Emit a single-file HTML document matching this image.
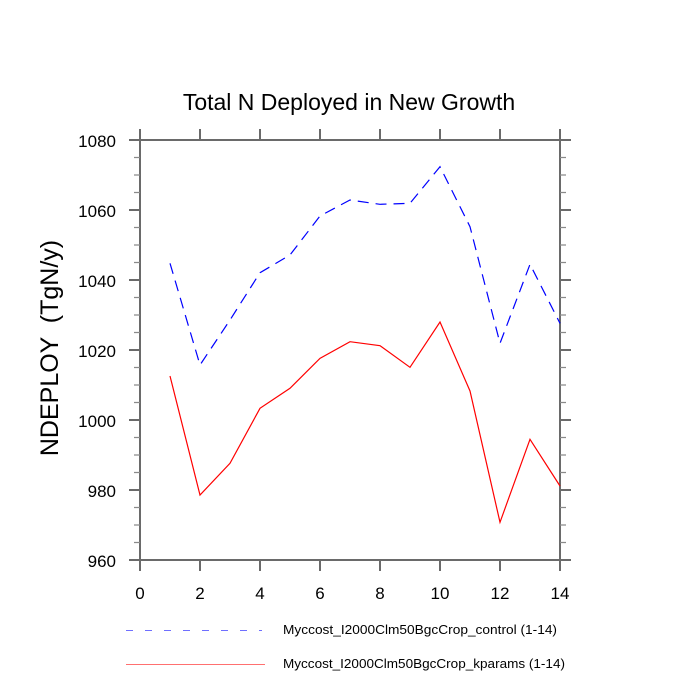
<!DOCTYPE html>
<html><head><meta charset="utf-8"><style>
html,body{margin:0;padding:0;background:#fff;}
svg{display:block;font-family:"Liberation Sans",Arial,sans-serif;}
</style></head><body>
<svg width="700" height="700" viewBox="0 0 700 700" xmlns="http://www.w3.org/2000/svg">
<rect width="700" height="700" fill="#fff"/>
<text x="349" y="110" font-size="23" text-anchor="middle" fill="#000">Total N Deployed in New Growth</text>
<g stroke="#6a6a6a" stroke-width="2" fill="none">
<rect x="140" y="140" width="420" height="420"/>
<!-- x major ticks -->
<path d="M140 560V571M200 560V571M260 560V571M320 560V571M380 560V571M440 560V571M500 560V571M560 560V571"/>
<path d="M140 140V129M200 140V129M260 140V129M320 140V129M380 140V129M440 140V129M500 140V129M560 140V129"/>
<!-- y major ticks -->
<path d="M129 140H140M129 210H140M129 280H140M129 350H140M129 420H140M129 490H140M129 560H140"/>
<path d="M560 140H571M560 210H571M560 280H571M560 350H571M560 420H571M560 490H571M560 560H571"/>
</g>
<g stroke="#8a8a8a" stroke-width="1.3" fill="none">
<path d="M134 157.5H140M134 175H140M134 192.5H140M134 227.5H140M134 245H140M134 262.5H140M134 297.5H140M134 315H140M134 332.5H140M134 367.5H140M134 385H140M134 402.5H140M134 437.5H140M134 455H140M134 472.5H140M134 507.5H140M134 525H140M134 542.5H140"/>
<path d="M560 157.5H566M560 175H566M560 192.5H566M560 227.5H566M560 245H566M560 262.5H566M560 297.5H566M560 315H566M560 332.5H566M560 367.5H566M560 385H566M560 402.5H566M560 437.5H566M560 455H566M560 472.5H566M560 507.5H566M560 525H566M560 542.5H566"/>
</g>
<g font-size="17" fill="#000" text-anchor="end">
<text x="116" y="147">1080</text>
<text x="116" y="217">1060</text>
<text x="116" y="287">1040</text>
<text x="116" y="357">1020</text>
<text x="116" y="427">1000</text>
<text x="116" y="497">980</text>
<text x="116" y="567">960</text>
</g>
<g font-size="17" fill="#000" text-anchor="middle">
<text x="140" y="599">0</text>
<text x="200" y="599">2</text>
<text x="260" y="599">4</text>
<text x="320" y="599">6</text>
<text x="380" y="599">8</text>
<text x="440" y="599">10</text>
<text x="500" y="599">12</text>
<text x="560" y="599">14</text>
</g>
<text x="58" y="348" font-size="25" text-anchor="middle" fill="#000" transform="rotate(-90 58 348)" xml:space="preserve">NDEPLOY  (TgN/y)</text>
<polyline fill="none" stroke="#0000ff" stroke-width="1.2" stroke-dasharray="11 7" points="170,263.3 200,365 230,320 260,272.7 290,255 320,216 350,200 380,204.3 410,203.3 440,166.7 470,226.7 500,343.3 530,264.3 560,323.3"/>
<polyline fill="none" stroke="#ff0000" stroke-width="1.2" points="170,376 200,495 230,463.3 260,408.3 290,388.3 320,358.3 350,341.7 380,345.7 410,367.3 440,322 470,391 500,522.3 530,439.3 560,486"/>
<line x1="126" y1="630.5" x2="262" y2="630.5" stroke="#6f6fff" stroke-width="1" stroke-dasharray="7 12"/>
<line x1="126" y1="664.5" x2="265" y2="664.5" stroke="#ff7070" stroke-width="1"/>
<text x="283" y="634" font-size="13" fill="#000" textLength="274" lengthAdjust="spacingAndGlyphs">Myccost_I2000Clm50BgcCrop_control (1-14)</text>
<text x="283" y="668" font-size="13" fill="#000" textLength="282" lengthAdjust="spacingAndGlyphs">Myccost_I2000Clm50BgcCrop_kparams (1-14)</text>
</svg>
</body></html>
